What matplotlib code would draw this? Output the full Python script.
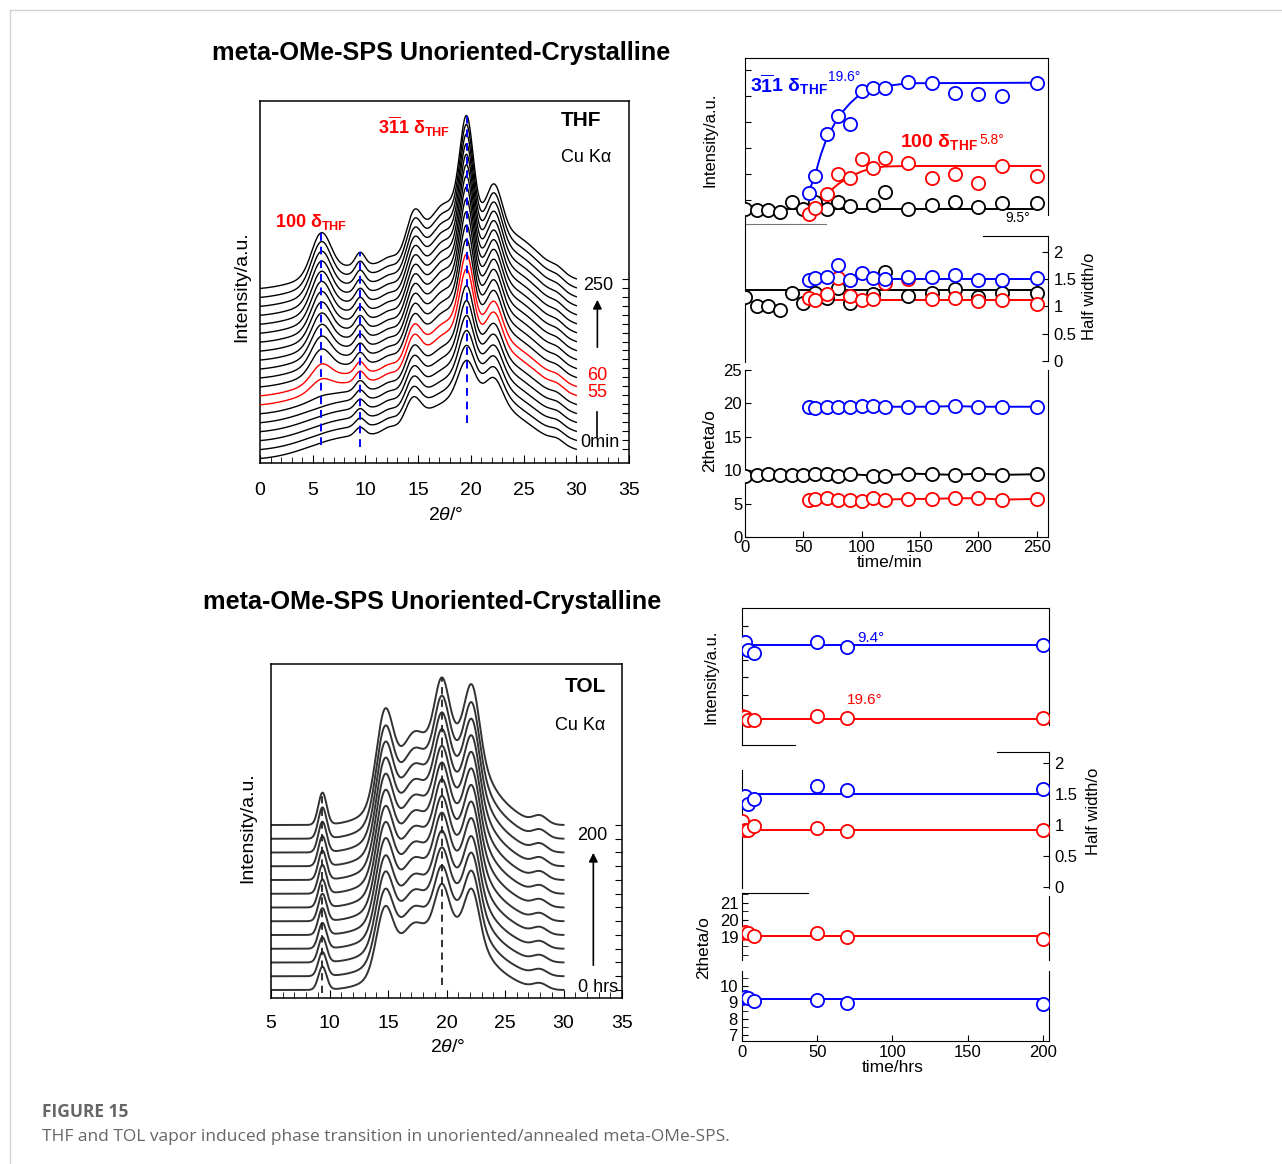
import numpy as np
import matplotlib.pyplot as plt
from matplotlib.lines import Line2D
from matplotlib.ticker import MultipleLocator

plt.rcParams['font.family'] = ['Liberation Sans', 'DejaVu Sans']
plt.rcParams['mathtext.fontset'] = 'custom'
plt.rcParams['mathtext.rm'] = 'Liberation Sans'
plt.rcParams['mathtext.it'] = 'Liberation Sans:italic'
plt.rcParams['mathtext.bf'] = 'Liberation Sans:bold'

# ---------------- THF stacked XRD patterns ----------------
thf_times = [0, 10, 20, 30, 40, 50, 55, 60, 70, 80, 90, 100, 110, 120, 140, 160, 180, 200, 220, 250]
# how far the delta(THF) reflections have grown in each pattern (0..1)
thf_g311 = [0, 0.08, 0.16, 0.24, 0.32, 0.40, 0.50, 0.58, 0.66, 0.73, 0.79, 0.84, 0.88, 0.91, 0.94, 0.96, 0.98, 0.99, 1.0, 1.0]
thf_g100 = [0, 0, 0, 0, 0, 0.05, 0.25, 0.4, 0.55, 0.65, 0.72, 0.78, 0.83, 0.87, 0.9, 0.93, 0.96, 0.98, 1.0, 1.0]
thf_red = [55, 60]
# initial pattern: peak centre / width / height
thf_base_pos = [8.0, 19.0, 24.0, 28.0, 9.5, 14.5, 19.6, 22.2, 12.2, 28.2]
thf_base_wid = [3.5, 4.5, 2.5, 4.0, 0.45, 0.7, 0.8, 0.8, 0.6, 0.6]
thf_base_hgt = [20, 60, 10, 8, 8, 23, 37, 25, 4, 4]
# delta-form reflections that grow in
thf_100_pos, thf_100_wid, thf_100_hgt = [5.8], [0.9], [40]
thf_311_pos = [19.6, 14.8, 17.3, 22.2, 25.0, 9.5]
thf_311_wid = [0.6, 0.7, 1.2, 0.7, 2.0, 0.45]
thf_311_hgt = [70, 15, 28, 20, 10, 5]
thf_marks = [5.8, 9.5, 19.6]

# ---------------- TOL stacked XRD patterns ----------------
tol_scale = [0.72, 0.75, 0.78, 0.8, 0.83, 0.85, 0.87, 0.89, 0.91, 0.93, 0.95, 0.97, 1.0]
tol_pos = [18.5, 16.5, 22.0, 25.0, 9.4, 14.7, 17.1, 19.6, 22.2, 28.0]
tol_wid = [2.8, 1.5, 1.5, 1.5, 0.35, 0.7, 0.7, 0.6, 0.6, 0.6]
tol_hgt = [80, 8, 45, 12, 32, 80, 14, 60, 60, 8]
tol_marks = [9.4, 19.6]

# ---------------- THF kinetics ----------------
t_black = [0, 10, 20, 30, 40, 50, 60, 70, 80, 90, 110, 120, 140, 160, 180, 200, 220, 250]
t_col = [55, 60, 70, 80, 90, 100, 110, 120, 140, 160, 180, 200, 220, 250]
int_black = [0.64, 0.62, 0.62, 0.56, 0.94, 0.64, 0.94, 0.64, 0.94, 0.77, 0.81, 1.32, 0.64, 0.81, 0.94, 0.74, 0.87, 0.87]
int_blue = [1.28, 1.92, 3.53, 4.23, 3.92, 5.19, 5.32, 5.32, 5.53, 5.49, 5.10, 5.06, 5.00, 5.51]
int_red = [0.45, 0.70, 1.22, 1.99, 1.86, 2.56, 2.22, 2.63, 2.41, 1.83, 1.99, 1.64, 2.31, 1.92]
fit_t_blue = [52, 55, 60, 65, 70, 80, 90, 100, 110, 120, 140, 250]
fit_blue = [1.05, 1.35, 1.96, 2.75, 3.37, 4.21, 4.72, 5.13, 5.33, 5.38, 5.49, 5.51]
fit_t_red = [60, 70, 80, 90, 100, 110, 120, 140, 253]
fit_red = [0.75, 1.24, 1.62, 1.9, 2.1, 2.24, 2.29, 2.31, 2.31]
fit_black = 0.64
hw_black = [1.18, 1.01, 1.0, 0.94, 1.25, 1.07, 1.25, 1.15, 1.34, 1.07, 1.23, 1.63, 1.20, 1.25, 1.32, 1.18, 1.25, 1.25]
hw_blue = [1.49, 1.52, 1.55, 1.77, 1.49, 1.61, 1.52, 1.50, 1.55, 1.55, 1.58, 1.49, 1.48, 1.52]
hw_red = [1.15, 1.12, 1.22, 1.52, 1.20, 1.12, 1.14, 1.43, 1.50, 1.14, 1.15, 1.10, 1.12, 1.04]
hw_lvl = {'k': 1.31, 'b': 1.50, 'r': 1.11}
tt_black = [9.2, 9.3, 9.4, 9.3, 9.3, 9.3, 9.4, 9.5, 9.1, 9.4, 9.2, 9.2, 9.5, 9.4, 9.3, 9.5, 9.3, 9.4]
tt_blue = [19.5, 19.3, 19.5, 19.5, 19.5, 19.6, 19.6, 19.5, 19.5, 19.5, 19.6, 19.5, 19.5, 19.5]
tt_red = [5.6, 5.7, 5.8, 5.6, 5.6, 5.4, 5.8, 5.6, 5.7, 5.7, 5.8, 5.8, 5.6, 5.7]

# ---------------- TOL kinetics ----------------
tol_t = [0, 2, 4, 8, 50, 70, 200]
tol_int_blue = [4.74, 5.09, 4.61, 4.41, 5.09, 4.80, 4.90]
tol_int_red = [0.75, 0.67, 0.51, 0.51, 0.75, 0.61, 0.61]
tol_hw_blue = [1.42, 1.47, 1.34, 1.42, 1.63, 1.57, 1.58]
tol_hw_red = [1.06, 0.92, 0.92, 0.98, 0.95, 0.90, 0.92]
tol_tt_red = [19.27, 19.32, 19.27, 19.08, 19.27, 19.04, 18.88]
tol_tt_blue = [9.25, 9.31, 9.25, 9.1, 9.14, 8.94, 8.9]
tol_lvl = {'int_b': 4.9, 'int_r': 0.57, 'hw_b': 1.5, 'hw_r': 0.92, 'tt_r': 19.08, 'tt_b': 9.2}

W, H = 1282, 1164
fig = plt.figure(figsize=(W / 100, H / 100), dpi=100)


def ax_at(x0, y0, x1, y1):
    return fig.add_axes([x0 / W, 1 - y1 / H, (x1 - x0) / W, (y1 - y0) / H])


def ftext(x, y, s, **kw):
    kw.setdefault('ha', 'center')
    kw.setdefault('va', 'center')
    fig.text(x / W, 1 - y / H, s, **kw)


def peaks(x, pos, wid, hgt):
    y = np.zeros_like(x)
    for p, w, h in zip(pos, wid, hgt):
        y += h * np.exp(-(x - p) ** 2 / (2 * w ** 2))
    return y


# ======== THF waterfall ========
ax = ax_at(260, 101, 629, 463)
x = np.linspace(0, 30, 601)
base = peaks(x, thf_base_pos, thf_base_wid, thf_base_hgt)
p100 = peaks(x, thf_100_pos, thf_100_wid, thf_100_hgt)
p311 = peaks(x, thf_311_pos, thf_311_wid, thf_311_hgt)
ends, top = [], None
for i, t in enumerate(thf_times):
    y = 3 + i * 8.95 + base + thf_g100[i] * p100 + thf_g311[i] * p311
    red = t in thf_red
    ax.plot(x, y, color='red' if red else 'black', lw=1.0, zorder=3 if red else 2)
    ends.append(y[-1])
    top = y
for p, lo in zip(thf_marks, [18, 16, 40]):
    ax.plot([p, p], [lo, np.interp(p, x, top)], color='blue', lw=1.4,
            dashes=(4, 3), zorder=4)
ax.set_xlim(0, 35)
ax.set_ylim(0, 362)
ax.xaxis.set_major_locator(MultipleLocator(5))
ax.xaxis.set_minor_locator(MultipleLocator(1))
ax.set_yticks(ends)
ax.tick_params(axis='x', which='major', direction='in', length=6, labelsize=14, pad=14)
ax.tick_params(axis='x', which='minor', direction='in', length=4)
ax.tick_params(axis='y', left=False, right=True, labelleft=False, direction='in', length=5)
for i, t in enumerate(thf_times):
    if t in thf_red:
        ax.yaxis.get_major_ticks()[i].tick2line.set_color('red')
for s in ax.spines.values():
    s.set_linewidth(1.1)
ax.text(30.65, 178, '250', fontsize=13, va='center')
ax.text(31.0, 87, '60', fontsize=13, va='center', color='red')
ax.text(31.0, 70, '55', fontsize=13, va='center', color='red')
ax.text(30.4, 20, '0min', fontsize=13, va='center')
ax.annotate('', xy=(32.0, 166), xytext=(32.0, 113),
            arrowprops=dict(arrowstyle='-|>', lw=1.2, color='k', mutation_scale=13))
ax.plot([32.0, 32.0], [26, 51], color='k', lw=1.2)
ax.text(30.4, 343, 'THF', fontsize=15, fontweight='bold', ha='center', va='center')
ax.text(30.9, 306, 'Cu Kα', fontsize=13, ha='center', va='center')
ax.text(1.4, 241, r'$\mathbf{100\ \delta}_{\mathbf{THF}}$', fontsize=13, color='red', va='center')
ax.text(11.2, 336, r'$\mathbf{3\overline{1}1\ \delta}_{\mathbf{THF}}$', fontsize=13, color='red', va='center')
ftext(242, 287, 'Intensity/a.u.', fontsize=14, rotation=90)
ftext(446, 515, r'2$\mathit{\theta}$/°', fontsize=14)
ftext(441, 53, 'meta-OMe-SPS Unoriented-Crystalline', fontsize=18.2, fontweight='bold')

# ======== THF kinetics ========
mk = dict(marker='o', ms=9.5, mfc='white', mew=1.3, ls='none', zorder=3)
a1 = ax_at(745, 58, 1048, 224)
a2 = ax_at(745, 224, 1048, 362)
a3 = ax_at(745, 370, 1048, 537)
for a in (a1, a2, a3):
    a.set_xlim(0, 259.6)
    a.patch.set_alpha(0)
    a.set_xticks([])

a1.set_ylim(0.08, 6.46)
a1.plot([t_black[0], t_black[-1]], [fit_black] * 2, color='k', lw=1.4)
a1.plot(fit_t_blue, fit_blue, color='blue', lw=1.4)
a1.plot(fit_t_red, fit_red, color='red', lw=1.4)
a1.plot(t_black, int_black, mec='k', **mk)
a1.plot(t_col, int_red, mec='red', **mk)
a1.plot(t_col, int_blue, mec='blue', **mk)
a1.set_yticks([1, 2, 3, 4, 5, 6])
a1.tick_params(axis='y', direction='in', length=4, labelleft=False)
a1.spines['right'].set_bounds(0.42, 6.46)
a1.spines['bottom'].set_bounds(0, 69.4)
a1.spines['bottom'].set_color('#777777')
a1.text(4.3, 5.42, r'$\mathbf{3\overline{1}1\ \delta}_{\mathbf{THF}}$', fontsize=14, color='blue', va='center')
a1.text(71, 5.72, '19.6°', fontsize=10, color='blue', va='center')
a1.text(133, 3.23, r'$\mathbf{100\ \delta}_{\mathbf{THF}}$', fontsize=14, color='red', va='center')
a1.text(201, 3.3, '5.8°', fontsize=10, color='red', va='center')
a1.text(234, 0.31, '9.5°', fontsize=10, ha='center', va='center')
ftext(710, 140, 'Intensity/a.u.', fontsize=12, rotation=90)

a2.set_ylim(-0.02, 2.515)
for tt, vals, c in ((t_black, hw_black, 'k'), (t_col, hw_red, 'r'), (t_col, hw_blue, 'b')):
    col = {'k': 'k', 'r': 'red', 'b': 'blue'}[c]
    lo = 50 if c == 'r' else tt[0]
    a2.plot([lo, tt[-1] + 3], [hw_lvl[c]] * 2, color=col, lw=1.4)
    a2.plot(tt, vals, mec=col, **mk)
a2.spines['bottom'].set_visible(False)
a2.spines['right'].set_bounds(0, 2.294)
a2.spines['top'].set_position(('data', 2.294))
a2.spines['top'].set_bounds(204, 259.6)
a2.yaxis.tick_right()
a2.set_yticks([0, 0.5, 1, 1.5, 2])
a2.set_yticklabels(['0', '0.5', '1', '1.5', '2'])
a2.tick_params(axis='y', direction='in', length=4, labelsize=12, pad=4)
ftext(1089, 296, 'Half width/o', fontsize=12, rotation=90)

a3.set_ylim(0, 25)
a3.plot(t_black, tt_black, color='k', lw=1.4, **{**mk, 'ls': '-', 'mec': 'k'})
a3.plot(t_col, tt_blue, color='blue', lw=1.4, **{**mk, 'ls': '-', 'mec': 'blue'})
a3.plot(t_col, tt_red, color='red', lw=1.4, **{**mk, 'ls': '-', 'mec': 'red'})
a3.spines['top'].set_visible(False)
a3.set_xticks([0, 50, 100, 150, 200, 250])
a3.set_yticks([0, 5, 10, 15, 20, 25])
a3.tick_params(direction='in', length=4, labelsize=12, pad=2)
ftext(710, 441, '2theta/o', fontsize=12.5, rotation=90)
ftext(890, 562, 'time/min', fontsize=12.5)

# ======== TOL waterfall ========
bx = ax_at(271, 664, 622, 998)
xt = np.linspace(5, 30, 501)
prof = peaks(xt, tol_pos, tol_wid, tol_hgt)
ends, top = [], None
for i, s in enumerate(tol_scale):
    y = 8 + i * 13.75 + s * prof
    bx.plot(xt, y, color='#333333', lw=1.4)
    ends.append(y[-1])
    top = y
for p, lo in zip(tol_marks, [5, 13]):
    bx.plot([p, p], [lo, np.interp(p, xt, top)], color='#222222', lw=1.3, dashes=(4, 3))
bx.set_xlim(5, 35)
bx.set_ylim(0, 334)
bx.xaxis.set_major_locator(MultipleLocator(5))
bx.xaxis.set_minor_locator(MultipleLocator(1))
bx.set_yticks(ends)
bx.tick_params(axis='x', which='major', direction='in', length=6, labelsize=14, pad=12)
bx.tick_params(axis='x', which='minor', direction='in', length=4)
bx.tick_params(axis='y', left=False, right=True, labelleft=False, direction='in', length=5)
for s in bx.spines.values():
    s.set_linewidth(1.1)
bx.text(31.2, 163, '200', fontsize=13, va='center')
bx.text(31.2, 11, '0 hrs', fontsize=13, va='center')
bx.annotate('', xy=(32.55, 148), xytext=(32.55, 30),
            arrowprops=dict(arrowstyle='-|>', lw=1.2, color='k', mutation_scale=13))
bx.text(31.9, 311, 'TOL', fontsize=15, fontweight='bold', ha='center', va='center')
bx.text(31.4, 272, 'Cu Kα', fontsize=13, ha='center', va='center')
ftext(248, 828, 'Intensity/a.u.', fontsize=14, rotation=90)
ftext(448, 1047, r'2$\mathit{\theta}$/°', fontsize=14)
ftext(432, 602, 'meta-OMe-SPS Unoriented-Crystalline', fontsize=18.2, fontweight='bold')

# ======== TOL kinetics ========
b1 = ax_at(742, 608, 1049, 745)
b2 = ax_at(742, 752, 1049, 888)
b3 = ax_at(742, 892.7, 1049, 960)
b4 = ax_at(742, 970.7, 1049, 1040.7)
for a in (b1, b2, b3, b4):
    a.set_xlim(0, 204)
    a.patch.set_alpha(0)
    a.set_xticks([])
span = [tol_t[0], tol_t[-1]]

b1.set_ylim(-0.95, 7.06)
b1.plot(span, [tol_lvl['int_b']] * 2, color='blue', lw=1.4)
b1.plot(span, [tol_lvl['int_r']] * 2, color='red', lw=1.4)
b1.plot(tol_t, tol_int_blue, mec='blue', **mk)
b1.plot(tol_t, tol_int_red, mec='red', **mk)
b1.set_yticks([1, 2, 3, 4, 5, 6])
b1.tick_params(axis='y', direction='in', length=4, labelleft=False)
b1.spines['right'].set_bounds(0.22, 7.06)
b1.spines['bottom'].set_bounds(0, 35.2)
b1.text(85.7, 5.31, '9.4°', fontsize=11, color='blue', ha='center', va='center')
b1.text(81.7, 1.68, '19.6°', fontsize=11, color='red', ha='center', va='center')
ftext(711, 677, 'Intensity/a.u.', fontsize=12, rotation=90)

b2.set_ylim(-0.021, 2.183)
b2.plot(span, [tol_lvl['hw_b']] * 2, color='blue', lw=1.4)
b2.plot(span, [tol_lvl['hw_r']] * 2, color='red', lw=1.4)
b2.plot(tol_t, tol_hw_blue, mec='blue', **mk)
b2.plot(tol_t, tol_hw_red, mec='red', **mk)
b2.spines['bottom'].set_visible(False)
b2.spines['top'].set_bounds(169.4, 204)
b2.spines['left'].set_bounds(-0.021, 1.895)
b2.yaxis.tick_right()
b2.set_yticks([0, 0.5, 1, 1.5, 2])
b2.set_yticklabels(['0', '0.5', '1', '1.5', '2'])
b2.tick_params(axis='y', direction='in', length=4, labelsize=12, pad=4)
ftext(1094, 811, 'Half width/o', fontsize=12, rotation=90)

b3.set_ylim(17.69, 21.58)
b3.plot(span, [tol_lvl['tt_r']] * 2, color='red', lw=1.4)
b3.plot(tol_t, tol_tt_red, mec='red', **mk)
b3.spines['bottom'].set_visible(False)
b3.spines['top'].set_bounds(0, 43.9)
b3.spines['right'].set_bounds(17.69, 21.4)
b3.set_yticks([19, 20, 21])
b3.yaxis.set_minor_locator(MultipleLocator(0.5))
b3.tick_params(axis='y', which='both', direction='in', length=4, labelsize=12, pad=2)

b4.set_ylim(6.65, 10.94)
b4.plot(span, [tol_lvl['tt_b']] * 2, color='blue', lw=1.4)
b4.plot(tol_t, tol_tt_blue, mec='blue', **mk)
b4.spines['top'].set_visible(False)
b4.set_yticks([7, 8, 9, 10])
b4.yaxis.set_minor_locator(MultipleLocator(0.5))
b4.set_xticks([0, 50, 100, 150, 200])
b4.tick_params(which='both', direction='in', length=4, labelsize=12, pad=3)
ftext(704, 948, '2theta/o', fontsize=12.5, rotation=90)
ftext(893, 1068, 'time/hrs', fontsize=12.5)

# ======== frame + caption ========
fig.add_artist(Line2D([10 / W, 1], [1 - 10 / H] * 2, color='#d4d4d4', lw=1))
fig.add_artist(Line2D([10 / W, 10 / W], [1 - 10 / H, 0], color='#d4d4d4', lw=1))
ftext(42, 1112, 'FIGURE 15', fontsize=12.5, fontweight='bold', color='#666666',
      ha='left', family=['Open Sans', 'DejaVu Sans'])
ftext(42, 1137, 'THF and TOL vapor induced phase transition in unoriented/annealed meta-OMe-SPS.',
      fontsize=12.5, color='#666666', ha='left', family=['Open Sans', 'DejaVu Sans'])

fig.savefig('out.png', dpi=100)
